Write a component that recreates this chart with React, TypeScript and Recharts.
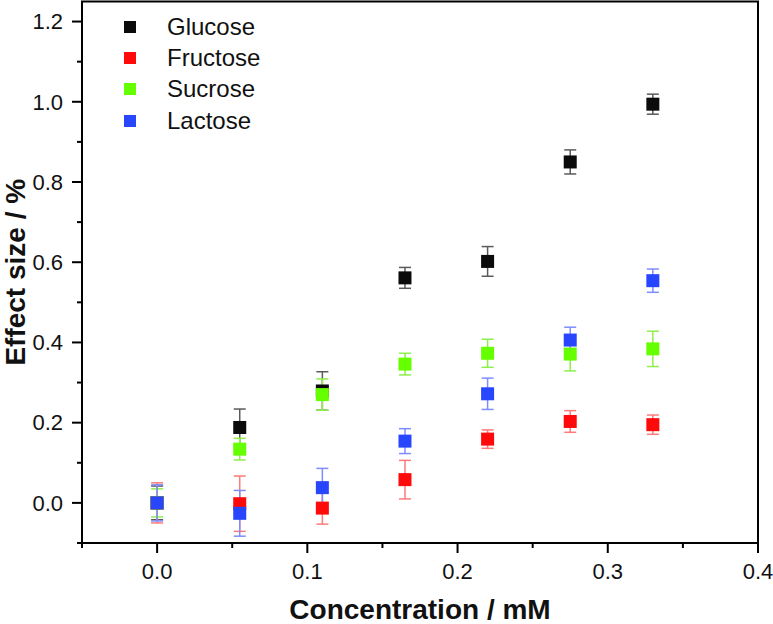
import React from 'react';
import { ScatterChart, Scatter, XAxis, YAxis, ErrorBar, ReferenceArea, Legend, Label } from 'recharts';

// concentration (mM) shared by all four sugars
const concentrations = [0, 0.055, 0.11, 0.165, 0.22, 0.275, 0.33];

const glucose = [0, 0.188, 0.279, 0.561, 0.602, 0.85, 0.994];
const glucoseErr = [0.042, 0.046, 0.048, 0.026, 0.037, 0.03, 0.025];

const fructose = [0, -0.002, -0.013, 0.058, 0.159, 0.203, 0.195];
const fructoseErr = [0.05, 0.069, 0.04, 0.048, 0.023, 0.027, 0.024];

const sucrose = [0, 0.134, 0.27, 0.346, 0.373, 0.371, 0.384];
const sucroseErr = [0.035, 0.027, 0.039, 0.027, 0.035, 0.042, 0.044];

const lactose = [0, -0.026, 0.038, 0.154, 0.272, 0.406, 0.554];
const lactoseErr = [0.045, 0.057, 0.048, 0.031, 0.039, 0.032, 0.029];

const xTicks = [-0.05, 0, 0.05, 0.1, 0.15, 0.2, 0.25, 0.3, 0.35, 0.4];
const yTicks = [-0.1, 0, 0.1, 0.2, 0.3, 0.4, 0.5, 0.6, 0.7, 0.8, 0.9, 1.0, 1.1, 1.2];

const FONT = 'Arial, "Liberation Sans", Helvetica, sans-serif';

const series = [
  { name: 'Glucose', values: glucose, errors: glucoseErr, color: '#0b0b0b', errColor: '#5a5a5a' },
  { name: 'Fructose', values: fructose, errors: fructoseErr, color: '#ff0a0a', errColor: '#ff7a7a' },
  { name: 'Sucrose', values: sucrose, errors: sucroseErr, color: '#66ff00', errColor: '#8cf04a' },
  { name: 'Lactose', values: lactose, errors: lactoseErr, color: '#2946ff', errColor: '#7f8cff' },
];
const seriesOrder = series.map((s) => s.name);

const toPoints = (values: number[], errors: number[]) =>
  concentrations.map((c, i) => ({ x: c, y: values[i], err: errors[i] }));

const isMajor = (v: number, step: number) => Math.abs(v / step - Math.round(v / step)) < 1e-6;

// bottom ticks: long ones with a label every 0.1, short ones in between
const XTick = (props: any) => {
  const { x, y, payload } = props;
  const v = payload.value;
  const major = isMajor(v, 0.1);
  const y0 = y - 20; // axis line (tickSize + tickMargin)
  return (
    <g>
      <line x1={x} x2={x} y1={y0} y2={y0 + (major ? 10 : 5)} stroke="#000" strokeWidth={2} />
      {major && (
        <text x={x} y={y0 + 36} textAnchor="middle" fontSize={22} fill="#111" fontFamily={FONT}>
          {v.toFixed(1)}
        </text>
      )}
    </g>
  );
};

const YTick = (props: any) => {
  const { x, y, payload } = props;
  const v = payload.value;
  const major = isMajor(v, 0.2);
  const x0 = x + 19;
  return (
    <g>
      <line x1={x0} x2={x0 - (major ? 10 : 5)} y1={y} y2={y} stroke="#000" strokeWidth={2} />
      {major && (
        <text x={x0 - 19} y={y} dy="0.355em" textAnchor="end" fontSize={22} fill="#111" fontFamily={FONT}>
          {v.toFixed(1)}
        </text>
      )}
    </g>
  );
};

const squareShape = (props: any) => (
  <rect x={props.cx - 6.5} y={props.cy - 6.5} width={13} height={13} fill={props.fill} />
);

const renderLegend = (props: any) => {
  const items = [...(props.payload || [])].sort(
    (a: any, b: any) => seriesOrder.indexOf(a.value) - seriesOrder.indexOf(b.value)
  );
  return (
    <div style={{ fontFamily: FONT, fontSize: 24, color: '#111' }}>
      {items.map((entry: any) => (
        <div key={entry.value} style={{ display: 'flex', alignItems: 'center', height: 31.3 }}>
          <span style={{ display: 'inline-block', width: 12, height: 12, background: entry.color, marginRight: 31 }} />
          {entry.value}
        </div>
      ))}
    </div>
  );
};

export default function App() {
  return (
    <div style={{ position: 'absolute', left: 0, top: 0, background: '#fff' }}>
      <ScatterChart width={773} height={624} margin={{ top: 1.5, right: 15, bottom: 0, left: 0 }}>
        <XAxis
          type="number"
          dataKey="x"
          domain={[-0.05, 0.4]}
          ticks={xTicks}
          interval={0}
          height={81}
          tickSize={10}
          tickMargin={10}
          tickLine={false}
          tick={<XTick />}
          axisLine={{ stroke: '#000', strokeWidth: 2 }}
          allowDataOverflow
        >
          <Label
            value="Concentration / mM"
            position="insideBottom"
            offset={5}
            style={{ fontFamily: FONT, fontSize: 28, fontWeight: 700, fill: '#111' }}
          />
        </XAxis>
        <YAxis
          type="number"
          dataKey="y"
          domain={[-0.1, 1.25]}
          ticks={yTicks}
          interval={0}
          width={82}
          tickSize={10}
          tickMargin={9}
          tickLine={false}
          tick={<YTick />}
          axisLine={{ stroke: '#000', strokeWidth: 2 }}
          allowDataOverflow
        >
          <Label
            value="Effect size / %"
            angle={-90}
            position="insideLeft"
            offset={15}
            style={{ fontFamily: FONT, fontSize: 28, fontWeight: 700, fill: '#111', textAnchor: 'middle' }}
          />
        </YAxis>
        <ReferenceArea x1={-0.05} x2={0.4} y1={-0.1} y2={1.25} fill="none" stroke="#000" strokeWidth={2} />
        <Legend
          layout="vertical"
          align="center"
          verticalAlign="middle"
          wrapperStyle={{ left: 124, top: 11, width: 'auto' }}
          content={renderLegend}
        />
        {series.map((s) => (
          <Scatter
            key={s.name}
            name={s.name}
            data={toPoints(s.values, s.errors)}
            fill={s.color}
            shape={squareShape}
            isAnimationActive={false}
          >
            <ErrorBar dataKey="err" direction="y" width={6} stroke={s.errColor} strokeWidth={1.5} isAnimationActive={false} />
          </Scatter>
        ))}
      </ScatterChart>
    </div>
  );
}
